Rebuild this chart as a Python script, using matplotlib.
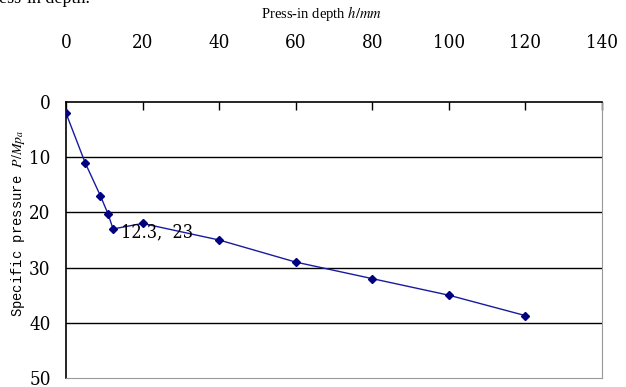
import matplotlib
matplotlib.use("Agg")
import matplotlib.pyplot as plt

plt.rcParams["mathtext.fontset"] = "stix"

depth = [0, 5, 9, 11, 12.3, 20, 40, 60, 80, 100, 120]
pressure = [2, 11, 17, 20.3, 23, 22, 25, 29, 32, 35, 38.7]
xticks = [0, 20, 40, 60, 80, 100, 120, 140]
yticks = [0, 10, 20, 30, 40, 50]

fig = plt.figure(figsize=(6.26, 3.87), dpi=100)
ax = fig.add_axes([0.1054, 0.0233, 0.8562, 0.7131])

tickfont = dict(family="DejaVu Serif", stretch="condensed", size=13.5)

ax.plot(depth, pressure, color="#1a1aa0", lw=1.0, marker="D", ms=4.5,
        mfc="#000080", mec="#000080", zorder=3)
ax.annotate("12.3,  23", xy=(12.3, 23), xytext=(14.3, 23.6),
            fontsize=13, family="DejaVu Serif", stretch="condensed",
            va="center", ha="left", color="black")

ax.set_xlim(0, 140)
ax.set_ylim(50, 0)
ax.xaxis.tick_top()
ax.set_xticks(xticks)
ax.set_xticklabels([str(v) for v in xticks], fontdict=tickfont)
ax.set_yticks(yticks)
ax.set_yticklabels([str(v) for v in yticks], fontdict=tickfont)
ax.tick_params(axis="x", direction="in", length=6, width=1, pad=36, top=True, bottom=False)
ax.tick_params(axis="y", length=0, pad=11)

for yv in [10, 20, 30, 40]:
    ax.axhline(yv, color="black", lw=1.0, zorder=1)

ax.spines["top"].set_color("black")
ax.spines["top"].set_linewidth(1.2)
ax.spines["left"].set_color("black")
ax.spines["left"].set_linewidth(1.2)
ax.spines["right"].set_color("#999999")
ax.spines["bottom"].set_color("#999999")

ax.set_ylabel("Specific pressure $P/Mp_a$", fontsize=10,
              family="Liberation Mono")
ax.yaxis.set_label_coords(-0.072, 0.56)

fig.text(0.514, 0.965, "Press-in depth $h/mm$", ha="center", va="center",
         fontsize=10.5, family="Liberation Serif")
fig.text(-0.002, 1.005, "ess-in depth.", ha="left", va="center",
         fontsize=13, family="Liberation Serif")

fig.savefig("out.png", dpi=100)
